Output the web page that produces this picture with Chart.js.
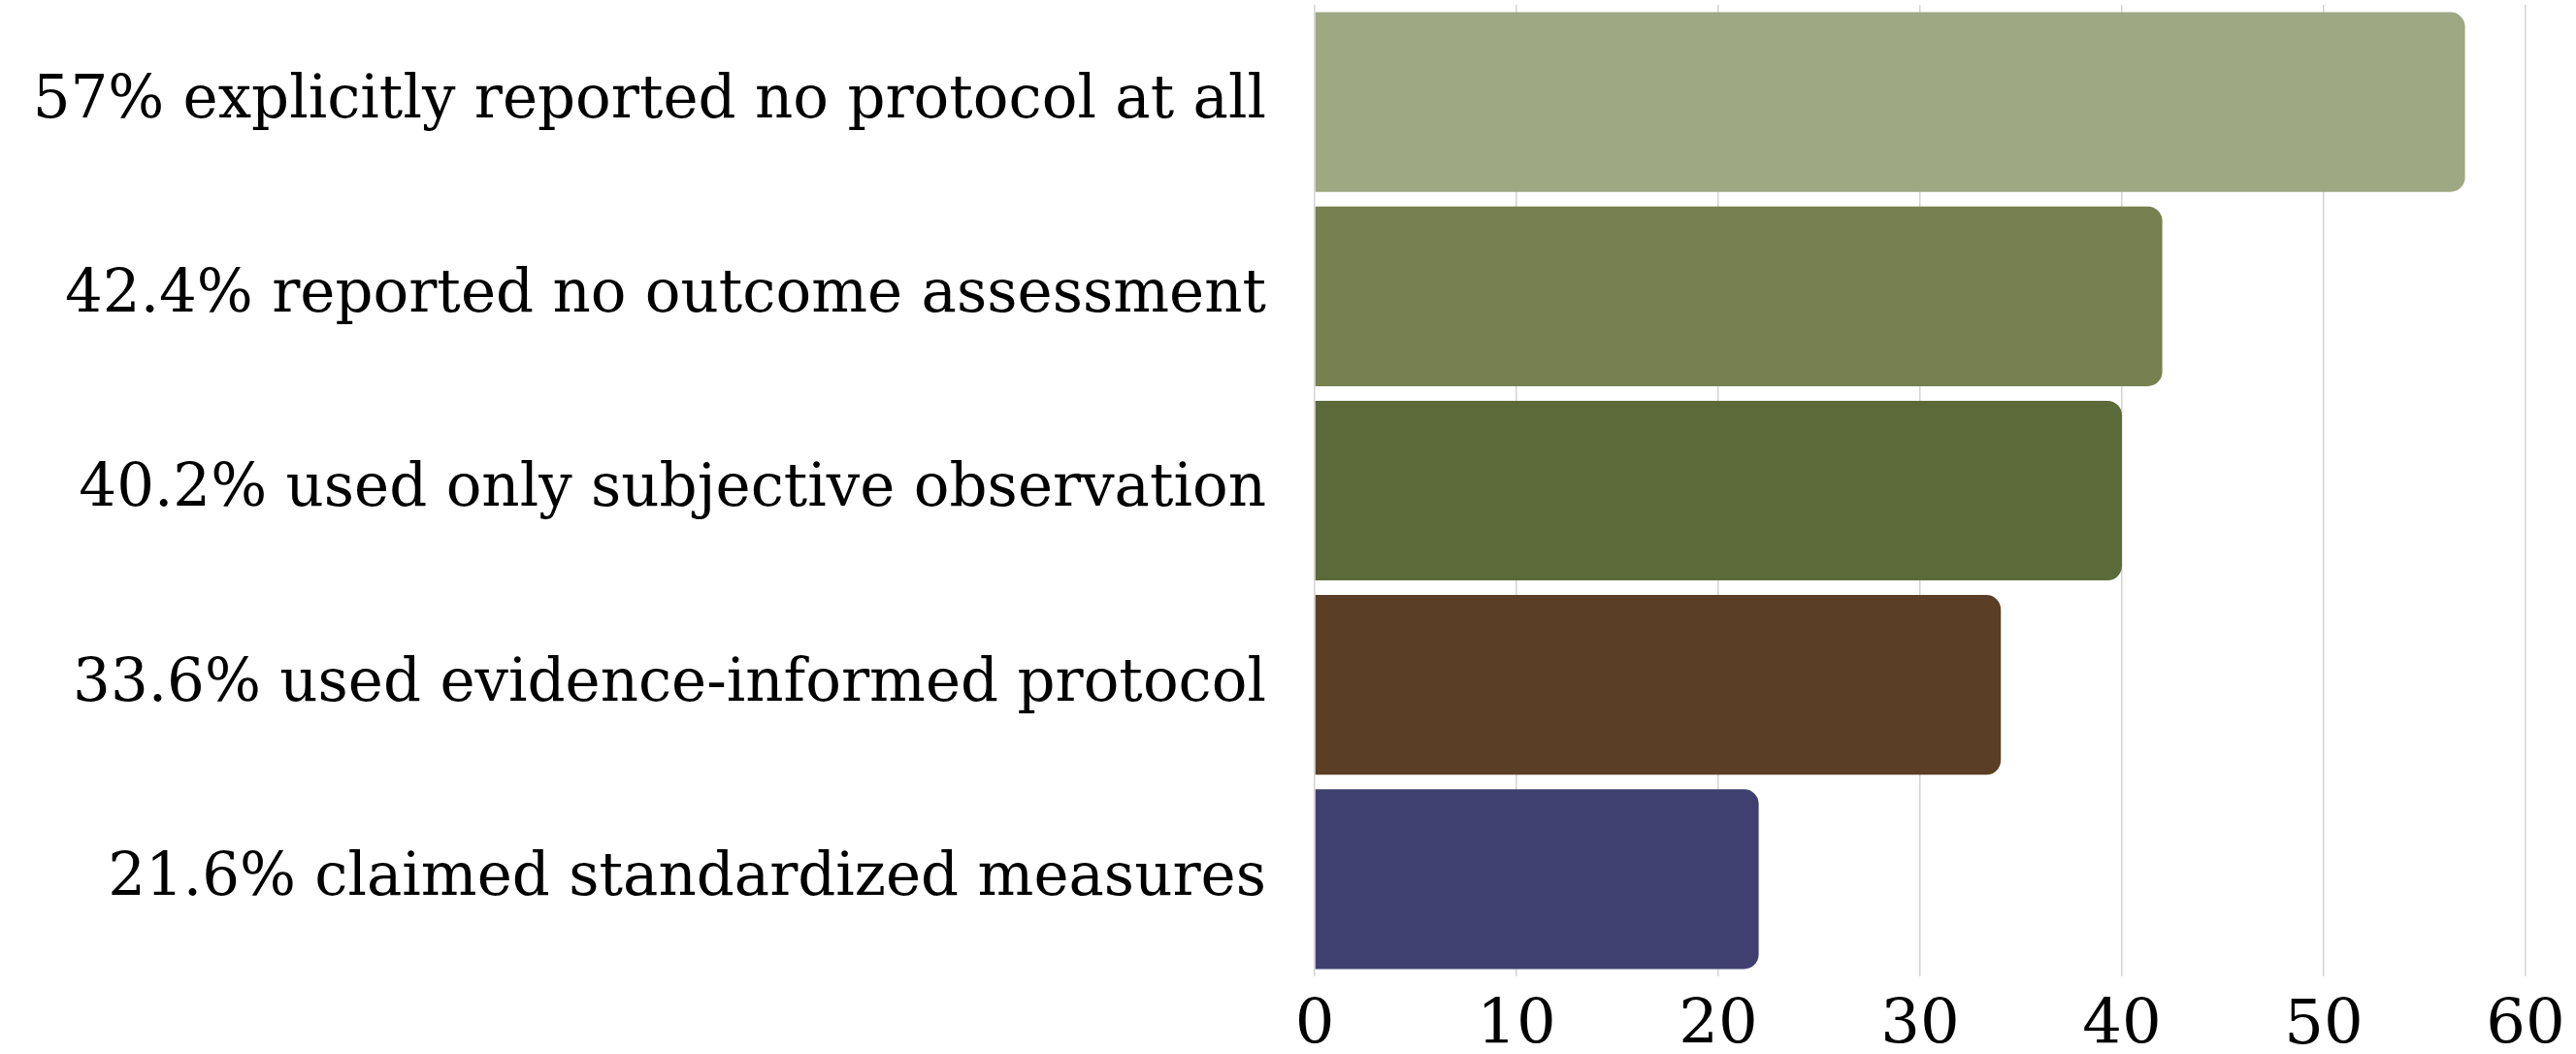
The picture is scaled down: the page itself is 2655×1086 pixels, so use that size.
<!DOCTYPE html>
<html>
<head>
<meta charset="utf-8">
<script src="https://cdn.jsdelivr.net/npm/chart.js@4.4.1/dist/chart.umd.min.js"></script>
<style>
  html, body { margin: 0; padding: 0; background: #ffffff; }
  #wrap { width: 2655px; height: 1086px; position: relative; }
</style>
</head>
<body>
<div id="wrap"><canvas id="c"></canvas></div>
<script>
const categories = [
  "57% explicitly reported no protocol at all",
  "42.4% reported no outcome assessment",
  "40.2% used only subjective observation",
  "33.6% used evidence-informed protocol",
  "21.6% claimed standardized measures"
];
const values = [57, 42, 40, 34, 22];
const barColors = ["#9ea882", "#76814f", "#5c6a3a", "#5a3e25", "#3f4070"];
const xTicks = [0, 10, 20, 30, 40, 50, 60];

const FONT = "'DejaVu Serif', 'Liberation Serif', serif";

new Chart(document.getElementById('c'), {
  type: 'bar',
  data: {
    labels: categories,
    datasets: [{
      data: values,
      backgroundColor: barColors,
      borderWidth: 0,
      borderRadius: 15,
      borderSkipped: 'start',
      barPercentage: 0.925,
      categoryPercentage: 1.0
    }]
  },
  options: {
    indexAxis: 'y',
    responsive: true,
    maintainAspectRatio: false,
    animation: false,
    layout: { padding: { top: 5, right: 0, left: 0, bottom: 0 } },
    plugins: { legend: { display: false }, tooltip: { enabled: false } },
    scales: {
      x: {
        min: 0, max: 60,
        afterBuildTicks: (s) => { s.ticks = xTicks.map(v => ({ value: v })); },
        grid: { color: '#d4d4d4', lineWidth: 1.5, drawTicks: false },
        border: { display: false },
        afterFit: (s) => { s.height = 80; s.paddingRight = 52; },
        ticks: {
          color: '#000000',
          padding: 14,
          font: { family: FONT, size: 64 }
        }
      },
      y: {
        grid: { display: false, drawTicks: false },
        border: { display: false },
        afterFit: (s) => { s.width = 1355; s.paddingTop = 0; s.paddingBottom = 0; },
        ticks: {
          color: '#000000',
          padding: 50,
          font: { family: FONT, size: 61 }
        }
      }
    }
  }
});
</script>
</body>
</html>
